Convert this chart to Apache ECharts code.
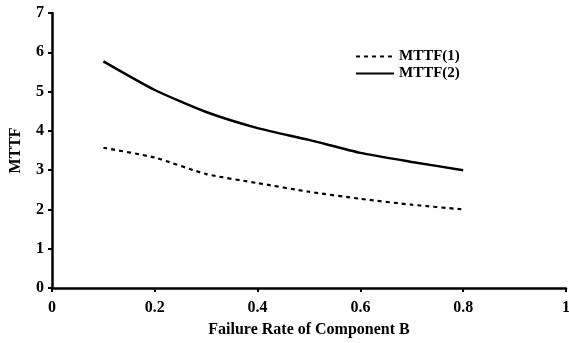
<!DOCTYPE html>
<html>
<head>
<meta charset="utf-8">
<script src="https://cdn.jsdelivr.net/npm/echarts@6/dist/echarts.min.js"></script>
<style>html,body{margin:0;padding:0;background:#fff}#c{width:569px;height:343px}</style>
</head>
<body>
<div id="c"></div>
<script>
var failureRate = [0.1, 0.2, 0.3, 0.4, 0.5, 0.6, 0.7, 0.8];
var mttf1 = [3.57, 3.32, 2.9, 2.67, 2.45, 2.27, 2.12, 2.0];
var mttf2 = [5.77, 5.04, 4.48, 4.07, 3.77, 3.44, 3.21, 3.0];
var xTicks = [0, 0.2, 0.4, 0.6, 0.8, 1];
var yTicks = [0, 1, 2, 3, 4, 5, 6, 7];

var font = 'Liberation Serif';
var chart = echarts.init(document.getElementById('c'));
function pairs(xs, ys){ return xs.map(function(x,i){return [x, ys[i]];}); }
chart.setOption({
  animation: false,
  grid: {left: 52, right: 3, top: 13, bottom: 55, containLabel: false, outerBoundsMode: 'none'},
  legend: {
    orient: 'vertical', left: 355, top: 49, itemWidth: 38, itemHeight: 14, itemGap: 2, padding: 0,
    itemStyle: {opacity: 0},
    textStyle: {fontFamily: font, fontWeight: 'bold', fontSize: 15, lineHeight: 14, color: '#000'},
    data: ['MTTF(1)', 'MTTF(2)']
  },
  xAxis: {
    type: 'value', min: 0, max: 1, interval: 0.2,
    name: 'Failure Rate of Component B', nameLocation: 'middle', nameGap: 34,
    nameTextStyle: {fontFamily: font, fontWeight: 'bold', fontSize: 16, color: '#000'},
    axisLine: {lineStyle: {color: '#000', width: 2.5}},
    axisTick: {show: true, length: 4, lineStyle: {color: '#000', width: 2}},
    splitLine: {show: false},
    axisLabel: {fontFamily: font, fontWeight: 'bold', fontSize: 16, color: '#000', margin: 12,
      formatter: function(v){ var t = xTicks.filter(function(a){return Math.abs(a-v)<1e-9;}); return t.length? String(t[0]) : ''; }}
  },
  yAxis: {
    type: 'value', min: 0, max: 7, interval: 1,
    name: 'MTTF', nameLocation: 'middle', nameGap: 28, nameRotate: 90,
    nameTextStyle: {fontFamily: font, fontWeight: 'bold', fontSize: 16, color: '#000'},
    axisLine: {show: true, lineStyle: {color: '#000', width: 2.5}},
    axisTick: {show: true, length: 4, lineStyle: {color: '#000', width: 2}},
    splitLine: {show: false},
    axisLabel: {fontFamily: font, fontWeight: 'bold', fontSize: 16, color: '#000', margin: 8,
      formatter: function(v){ return yTicks.indexOf(v) >= 0 ? String(v) : ''; }}
  },
  series: [
    {name: 'MTTF(1)', type: 'line', data: pairs(failureRate, mttf1), symbol: 'none', smooth: 0.2,
     lineStyle: {color: '#000', width: 2.2, type: [4, 4]}, itemStyle: {color: '#000'}},
    {name: 'MTTF(2)', type: 'line', data: pairs(failureRate, mttf2), symbol: 'none', smooth: 0.2,
     lineStyle: {color: '#000', width: 2.5, type: 'solid'}, itemStyle: {color: '#000'}}
  ]
});
</script>
</body>
</html>
